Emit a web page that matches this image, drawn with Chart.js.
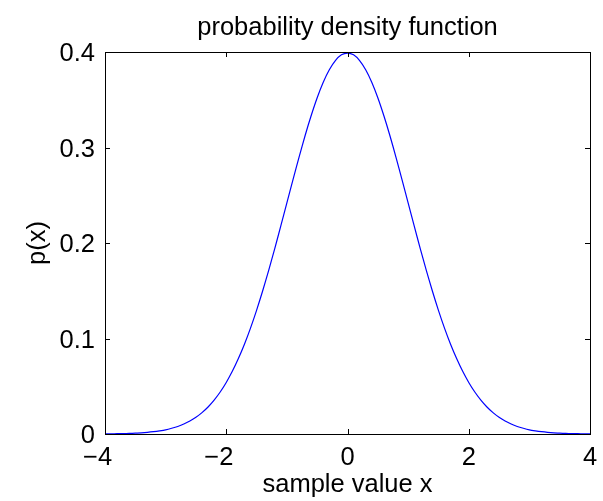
<!DOCTYPE html>
<html>
<head>
<meta charset="utf-8">
<script src="https://cdn.jsdelivr.net/npm/chart.js@4/dist/chart.umd.min.js"></script>
<style>
  html, body { margin: 0; padding: 0; background: #fff; }
</style>
</head>
<body>
<canvas id="graph" width="603" height="501"></canvas>
<script>
// sample positions and density
const xValues = [
  -4.0, -3.9, -3.8, -3.7, -3.6, -3.5, -3.4, -3.3, -3.2, -3.1,
  -3.0, -2.9, -2.8, -2.7, -2.6, -2.5, -2.4, -2.3, -2.2, -2.1,
  -2.0, -1.9, -1.8, -1.7, -1.6, -1.5, -1.4, -1.3, -1.2, -1.1,
  -1.0, -0.9, -0.8, -0.7, -0.6, -0.5, -0.4, -0.3, -0.2, -0.1,
  0.0, 0.1, 0.2, 0.3, 0.4, 0.5, 0.6, 0.7, 0.8, 0.9,
  1.0, 1.1, 1.2, 1.3, 1.4, 1.5, 1.6, 1.7, 1.8, 1.9,
  2.0, 2.1, 2.2, 2.3, 2.4, 2.5, 2.6, 2.7, 2.8, 2.9,
  3.0, 3.1, 3.2, 3.3, 3.4, 3.5, 3.6, 3.7, 3.8, 3.9, 4.0
];
const pdfValues = [
  0.0001, 0.0002, 0.0003, 0.0004, 0.0006, 0.0009, 0.0012, 0.0017, 0.0024, 0.0033,
  0.0044, 0.0060, 0.0079, 0.0104, 0.0136, 0.0175, 0.0224, 0.0283, 0.0355, 0.0440,
  0.0540, 0.0656, 0.0790, 0.0940, 0.1109, 0.1295, 0.1497, 0.1714, 0.1942, 0.2179,
  0.2420, 0.2661, 0.2897, 0.3123, 0.3332, 0.3521, 0.3683, 0.3814, 0.3910, 0.3970,
  0.3989, 0.3970, 0.3910, 0.3814, 0.3683, 0.3521, 0.3332, 0.3123, 0.2897, 0.2661,
  0.2420, 0.2179, 0.1942, 0.1714, 0.1497, 0.1295, 0.1109, 0.0940, 0.0790, 0.0656,
  0.0540, 0.0440, 0.0355, 0.0283, 0.0224, 0.0175, 0.0136, 0.0104, 0.0079, 0.0060,
  0.0044, 0.0033, 0.0024, 0.0017, 0.0012, 0.0009, 0.0006, 0.0004, 0.0003, 0.0002, 0.0001
];
const xTicks = [-4, -2, 0, 2, 4];
const yTicks = [0, 0.1, 0.2, 0.3, 0.4];
const titleText = "probability density function";
const xLabel = "sample value x";
const yLabel = "p(x)";

const FONT = '"Liberation Sans", Arial, Helvetica, sans-serif';
const FS = 25.5;

function fmt(v) {
  return String(Math.round(v * 10) / 10);
}

// matlab style box, inward ticks and labels
const matlabAxes = {
  id: "matlabAxes",
  afterDraw(chart) {
    const ctx = chart.ctx;
    const a = chart.chartArea;
    const xs = chart.scales.x, ys = chart.scales.y;
    const tl = 5;
    ctx.save();
    ctx.strokeStyle = "#000";
    ctx.lineWidth = 1;
    ctx.strokeRect(Math.round(a.left) + 0.5, Math.round(a.top) + 0.5,
      Math.round(a.right - a.left), Math.round(a.bottom - a.top));

    ctx.beginPath();
    xTicks.forEach(t => {
      const px = Math.round(xs.getPixelForValue(t)) + 0.5;
      ctx.moveTo(px, a.bottom); ctx.lineTo(px, a.bottom - tl);
      ctx.moveTo(px, a.top); ctx.lineTo(px, a.top + tl);
    });
    yTicks.forEach(t => {
      const py = Math.round(ys.getPixelForValue(t)) + 0.5;
      ctx.moveTo(a.left, py); ctx.lineTo(a.left + tl, py);
      ctx.moveTo(a.right, py); ctx.lineTo(a.right - tl, py);
    });
    ctx.stroke();

    ctx.fillStyle = "#000";
    ctx.font = FS + "px " + FONT;
    ctx.textBaseline = "alphabetic";
    // digits centred on the tick, minus sign hangs to the left
    ctx.textAlign = "left";
    xTicks.forEach(t => {
      const digits = fmt(Math.abs(t));
      const wd = ctx.measureText(digits).width;
      const px = xs.getPixelForValue(t);
      ctx.fillText(digits, px - wd / 2, 465);
      if (t < 0) {
        const wm = ctx.measureText("\u2212").width;
        ctx.fillText("\u2212", px - wd / 2 - wm, 465);
      }
    });
    ctx.textAlign = "right";
    yTicks.forEach(t => {
      ctx.fillText(fmt(t), a.left - 10, ys.getPixelForValue(t) + 9);
    });

    ctx.textAlign = "center";
    ctx.fillText(xLabel, (a.left + a.right) / 2, 492);
    ctx.fillText(titleText, (a.left + a.right) / 2, 35);

    ctx.translate(45, (a.top + a.bottom) / 2);
    ctx.rotate(-Math.PI / 2);
    ctx.fillText(yLabel, 0, 0);
    ctx.restore();
  }
};

const ctx = document.getElementById("graph").getContext("2d");
window.myChart = new Chart(ctx, {
  type: "scatter",
  data: {
    datasets: [{
      data: xValues.map((x, i) => ({ x: x, y: pdfValues[i] })),
      showLine: true,
      borderColor: "#0000ff",
      borderWidth: 1.2,
      pointRadius: 0,
      tension: 0.3,
      fill: false
    }]
  },
  options: {
    responsive: false,
    animation: false,
    layout: { padding: { left: 105, top: 52, right: 13, bottom: 67 } },
    plugins: { legend: { display: false }, tooltip: { enabled: false } },
    scales: {
      x: { type: "linear", min: -4, max: 4, display: false },
      y: { type: "linear", min: 0, max: 0.4, display: false }
    }
  },
  plugins: [matlabAxes]
});
</script>
</body>
</html>
